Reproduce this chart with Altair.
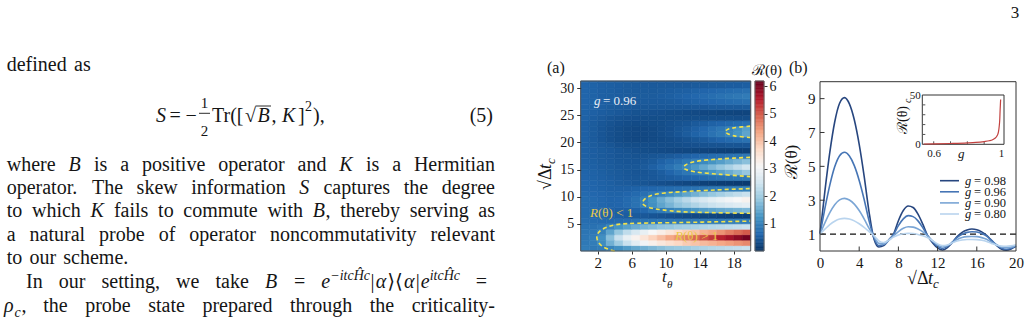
import re
import altair as alt
import pandas as pd

W, H = 1028, 317
SERIF = "Liberation Serif, DejaVu Serif, serif"
INK = "#151515"

# ---------------- values ----------------
# panel (a): heat map  R(theta) over (t_theta, sqrt(Delta) t_c)
t_theta = [0.5, 1.5, 2.5, 3.5, 4.5, 5.5, 6.5, 7.5, 8.5, 9.5,
           10.5, 11.5, 12.5, 13.5, 14.5, 15.5, 16.5, 17.5, 18.5, 19.5]
sqrt_tc = [0.5, 1.5, 2.5, 3.5, 4.5, 5.5, 6.5, 7.5, 8.5, 9.5, 10.5, 11.5, 12.5, 13.5, 14.5, 15.5,
           16.5, 17.5, 18.5, 19.5, 20.5, 21.5, 22.5, 23.5, 24.5, 25.5, 26.5, 27.5, 28.5, 29.5, 30.5, 31.5]
R_map = [
    [0.93, 0.9, 0.93, 1.05, 1.2, 1.35, 1.5, 1.6, 1.7, 1.8, 1.9, 1.95, 2.0, 2.1, 2.15, 2.2, 2.25, 2.3, 2.35, 2.4],
    [0.88, 0.93, 1.15, 1.6, 2.0, 2.4, 2.75, 3.0, 3.25, 3.45, 3.6, 3.75, 3.9, 4.0, 4.1, 4.2, 4.3, 4.4, 4.5, 4.6],
    [0.85, 0.93, 1.2, 1.8, 2.4, 2.85, 3.2, 3.5, 3.8, 4.05, 4.3, 4.5, 4.7, 4.9, 5.1, 5.3, 5.5, 5.7, 5.9, 6.1],
    [0.82, 0.85, 1.0, 1.45, 1.9, 2.3, 2.6, 2.85, 3.1, 3.3, 3.5, 3.7, 3.85, 4.0, 4.2, 4.35, 4.5, 4.7, 4.85, 5.0],
    [0.78, 0.78, 0.85, 1.05, 1.25, 1.4, 1.55, 1.65, 1.75, 1.85, 1.9, 2.0, 2.05, 2.1, 2.15, 2.2, 2.25, 2.3, 2.35, 2.4],
    [0.73, 0.7, 0.67, 0.67, 0.7, 0.73, 0.78, 0.8, 0.82, 0.85, 0.85, 0.85, 0.88, 0.88, 0.9, 0.9, 0.91, 0.91, 0.93, 0.93],
    [0.7, 0.67, 0.63, 0.58, 0.55, 0.52, 0.49, 0.46, 0.43, 0.4, 0.37, 0.34, 0.31, 0.28, 0.25, 0.25, 0.22, 0.2, 0.19, 0.18],
    [0.7, 0.67, 0.63, 0.58, 0.55, 0.55, 0.58, 0.64, 0.78, 0.9, 1.0, 1.1, 1.2, 1.3, 1.38, 1.45, 1.52, 1.58, 1.64, 1.7],
    [0.7, 0.67, 0.63, 0.6, 0.61, 0.67, 0.79, 0.97, 1.2, 1.45, 1.65, 1.85, 2.0, 2.15, 2.3, 2.42, 2.52, 2.62, 2.72, 2.8],
    [0.7, 0.67, 0.63, 0.6, 0.61, 0.67, 0.79, 0.97, 1.25, 1.55, 1.8, 2.05, 2.25, 2.45, 2.6, 2.75, 2.88, 3.0, 3.1, 3.2],
    [0.67, 0.64, 0.61, 0.58, 0.58, 0.61, 0.67, 0.76, 0.88, 1.0, 1.15, 1.3, 1.45, 1.6, 1.75, 1.9, 2.05, 2.18, 2.3, 2.4],
    [0.64, 0.61, 0.58, 0.55, 0.55, 0.55, 0.58, 0.61, 0.64, 0.67, 0.7, 0.73, 0.78, 0.8, 0.85, 0.88, 0.91, 0.94, 0.97, 1.0],
    [0.63, 0.6, 0.57, 0.54, 0.5, 0.48, 0.45, 0.42, 0.39, 0.36, 0.33, 0.3, 0.27, 0.24, 0.21, 0.18, 0.16, 0.15, 0.13, 0.12],
    [0.61, 0.58, 0.55, 0.52, 0.49, 0.46, 0.45, 0.45, 0.46, 0.49, 0.52, 0.55, 0.6, 0.64, 0.69, 0.73, 0.78, 0.82, 0.85, 0.88],
    [0.6, 0.57, 0.54, 0.5, 0.48, 0.45, 0.43, 0.43, 0.46, 0.52, 0.61, 0.73, 0.85, 0.97, 1.1, 1.25, 1.4, 1.55, 1.72, 1.9],
    [0.58, 0.55, 0.52, 0.49, 0.46, 0.45, 0.45, 0.48, 0.55, 0.66, 0.78, 0.93, 1.1, 1.3, 1.5, 1.7, 1.9, 2.1, 2.3, 2.5],
    [0.57, 0.54, 0.5, 0.48, 0.45, 0.43, 0.43, 0.45, 0.49, 0.57, 0.66, 0.76, 0.88, 1.0, 1.12, 1.25, 1.38, 1.52, 1.66, 1.8],
    [0.55, 0.52, 0.49, 0.46, 0.43, 0.42, 0.4, 0.4, 0.42, 0.45, 0.48, 0.52, 0.57, 0.61, 0.66, 0.7, 0.75, 0.79, 0.82, 0.85],
    [0.55, 0.52, 0.49, 0.46, 0.43, 0.4, 0.37, 0.34, 0.33, 0.31, 0.3, 0.28, 0.27, 0.25, 0.24, 0.22, 0.21, 0.19, 0.18, 0.18],
    [0.55, 0.5, 0.46, 0.42, 0.37, 0.34, 0.33, 0.33, 0.33, 0.33, 0.33, 0.34, 0.36, 0.37, 0.39, 0.4, 0.4, 0.42, 0.42, 0.43],
    [0.55, 0.49, 0.43, 0.37, 0.33, 0.3, 0.28, 0.28, 0.3, 0.31, 0.33, 0.36, 0.4, 0.45, 0.49, 0.55, 0.61, 0.67, 0.73, 0.79],
    [0.55, 0.49, 0.43, 0.37, 0.33, 0.3, 0.28, 0.28, 0.3, 0.33, 0.37, 0.43, 0.5, 0.58, 0.67, 0.78, 0.9, 1.05, 1.25, 1.45],
    [0.55, 0.49, 0.43, 0.37, 0.33, 0.3, 0.28, 0.28, 0.3, 0.33, 0.36, 0.42, 0.48, 0.55, 0.64, 0.75, 0.85, 1.0, 1.2, 1.4],
    [0.55, 0.5, 0.45, 0.4, 0.36, 0.33, 0.31, 0.31, 0.33, 0.34, 0.37, 0.4, 0.43, 0.48, 0.52, 0.57, 0.61, 0.66, 0.7, 0.75],
    [0.57, 0.52, 0.48, 0.43, 0.4, 0.37, 0.36, 0.34, 0.34, 0.34, 0.34, 0.34, 0.34, 0.34, 0.34, 0.34, 0.34, 0.34, 0.33, 0.33],
    [0.58, 0.55, 0.52, 0.49, 0.46, 0.43, 0.4, 0.39, 0.37, 0.36, 0.34, 0.33, 0.31, 0.3, 0.28, 0.27, 0.25, 0.25, 0.24, 0.24],
    [0.6, 0.57, 0.54, 0.5, 0.49, 0.48, 0.46, 0.45, 0.45, 0.45, 0.45, 0.45, 0.45, 0.46, 0.46, 0.48, 0.48, 0.49, 0.49, 0.5],
    [0.61, 0.58, 0.55, 0.54, 0.52, 0.5, 0.49, 0.49, 0.49, 0.49, 0.5, 0.52, 0.55, 0.58, 0.61, 0.64, 0.67, 0.7, 0.73, 0.76],
    [0.61, 0.58, 0.55, 0.54, 0.52, 0.5, 0.5, 0.5, 0.5, 0.52, 0.54, 0.57, 0.6, 0.64, 0.69, 0.73, 0.78, 0.82, 0.87, 0.91],
    [0.61, 0.58, 0.55, 0.54, 0.52, 0.5, 0.49, 0.49, 0.49, 0.5, 0.52, 0.54, 0.55, 0.58, 0.61, 0.64, 0.67, 0.7, 0.73, 0.76],
    [0.61, 0.58, 0.55, 0.54, 0.52, 0.5, 0.49, 0.48, 0.48, 0.48, 0.48, 0.48, 0.48, 0.49, 0.49, 0.5, 0.5, 0.52, 0.52, 0.54],
    [0.6, 0.57, 0.54, 0.52, 0.5, 0.49, 0.48, 0.46, 0.46, 0.46, 0.46, 0.46, 0.46, 0.46, 0.46, 0.48, 0.48, 0.48, 0.49, 0.49],
]
# R(theta) = 1 contours (dashed yellow)
c1_t = [4.0, 3.3, 2.6, 2.1, 1.9, 2.05, 2.5, 3.2, 4.2, 5.5, 8.0, 12.0, 16.0, 20.0]
c1_s = [0.0, 0.3, 0.8, 1.6, 2.5, 3.3, 3.95, 4.45, 4.85, 5.05, 5.15, 5.25, 5.38, 5.5]
c2_t = [20.0, 16.0, 11.8, 9.5, 8.45, 7.6, 7.27, 7.5, 8.45, 10.0, 11.8, 16.0, 20.0]
c2_s = [6.94, 7.05, 7.24, 7.6, 7.86, 8.3, 8.8, 9.5, 10.3, 10.7, 10.9, 11.25, 11.5]
c3_t = [20.0, 16.5, 13.4, 12.4, 12.1, 12.4, 13.4, 16.5, 20.0]
c3_s = [13.7, 14.1, 14.6, 15.0, 15.4, 15.9, 16.45, 16.95, 17.25]
c4_t = [20.0, 18.1, 17.3, 17.0, 17.3, 18.1, 20.0]
c4_s = [20.9, 21.2, 21.6, 21.97, 22.4, 22.7, 23.0]

# panel (b): R(theta) vs sqrt(Delta) t_c for several g
tc_b = [0, 0.5, 1, 1.5, 2, 2.5, 3, 3.5, 4, 4.5, 5, 5.5, 6, 6.5, 7, 7.5, 8, 8.5, 9, 9.5, 10,
        10.5, 11, 11.5, 12, 12.5, 13, 13.5, 14, 14.5, 15, 15.5, 16, 16.5, 17, 17.5, 18, 18.5, 19, 19.5, 20]
R_g098 = [1.0, 3.54, 5.82, 7.62, 8.73, 9.06, 8.69, 7.75, 6.30, 4.44, 2.33, 0.72, 0.24, 0.32, 0.64, 1.0,
          1.79, 2.39, 2.66, 2.57, 2.18, 1.57, 0.88, 0.48, 0.18, 0.06, 0.2, 0.5, 0.86, 1.1, 1.24, 1.3,
          1.26, 1.13, 0.93, 0.63, 0.34, 0.12, 0.05, 0.12, 0.27]
R_g096 = [1.0, 2.52, 3.89, 4.97, 5.63, 5.83, 5.61, 5.04, 4.17, 3.06, 1.80, 0.8, 0.32, 0.38, 0.65, 0.97,
          1.5, 1.9, 2.09, 2.03, 1.78, 1.37, 0.9, 0.55, 0.28, 0.15, 0.27, 0.52, 0.8, 0.98, 1.1, 1.14,
          1.12, 1.03, 0.88, 0.63, 0.38, 0.18, 0.1, 0.16, 0.3]
R_g090 = [1.0, 1.66, 2.26, 2.73, 3.02, 3.11, 3.01, 2.77, 2.39, 1.9, 1.35, 0.88, 0.45, 0.42, 0.62, 0.9,
          1.15, 1.34, 1.43, 1.41, 1.3, 1.13, 0.88, 0.6, 0.35, 0.24, 0.32, 0.5, 0.68, 0.8, 0.85, 0.86,
          0.85, 0.79, 0.69, 0.52, 0.36, 0.24, 0.2, 0.23, 0.33]
R_g080 = [1.0, 1.29, 1.56, 1.76, 1.89, 1.93, 1.89, 1.78, 1.61, 1.4, 1.15, 0.9, 0.6, 0.5, 0.63, 0.82,
          0.95, 1.02, 1.04, 1.03, 0.98, 0.9, 0.78, 0.6, 0.42, 0.32, 0.36, 0.48, 0.59, 0.65, 0.68, 0.68,
          0.67, 0.63, 0.56, 0.45, 0.35, 0.29, 0.28, 0.31, 0.37]
g_labels = ["0.98", "0.96", "0.90", "0.80"]
g_colors = ["#27467f", "#4675b5", "#7aa5d5", "#b9d4ee"]

# inset: R(theta)_c vs g
g_inset = [0.54, 0.6, 0.7, 0.8, 0.85, 0.9, 0.93, 0.95, 0.96, 0.97, 0.975, 0.98, 0.985, 0.99, 0.993, 0.995, 0.997, 0.998]
Rc_inset = [0.3, 0.4, 0.8, 1.4, 1.9, 2.8, 3.6, 4.6, 5.6, 7.0, 8.2, 9.6, 12.5, 19.0, 26.0, 35.0, 42.0, 45.5]

# colour map of the heat map (RdBu reversed, 11 stops over the colour-bar range 0 .. 6.2)
cmap_stops = [0.0, 0.62, 1.24, 1.86, 2.48, 3.1, 3.72, 4.34, 4.96, 5.58, 6.2]
cmap_colors = ["#053061", "#2166ac", "#4393c3", "#92c5de", "#d1e5f0", "#f7f7f7",
               "#fddbc7", "#f4a582", "#d6604d", "#b2182b", "#67001f"]

# ---------------- tables for the library ----------------
heat_df = pd.DataFrame([
    dict(x0=t - 0.5, x1=t + 0.5, y0=s - 0.5, y1=s + 0.5, R=R_map[i][j])
    for i, s in enumerate(sqrt_tc) for j, t in enumerate(t_theta)
])
cont_rows = []
for cid, (ts, ss) in enumerate([(c1_t, c1_s), (c2_t, c2_s), (c3_t, c3_s), (c4_t, c4_s)]):
    for k, (t, s) in enumerate(zip(ts, ss)):
        cont_rows.append(dict(cid=cid, k=k, t=t, s=s))
cont_df = pd.DataFrame(cont_rows)

cb_lv = [round(0.05 * k, 2) for k in range(124)]
cb_df = pd.DataFrame({"v0": cb_lv, "v1": [round(v + 0.05, 2) for v in cb_lv], "v": [v + 0.025 for v in cb_lv]})

b_rows = []
for lab, ys in zip(g_labels, [R_g098, R_g096, R_g090, R_g080]):
    for x, y in zip(tc_b, ys):
        b_rows.append(dict(g=lab, x=x, R=y))
b_df = pd.DataFrame(b_rows)
leg_df = pd.DataFrame({"k": [0, 1, 2, 3], "g": g_labels, "eq": ["= " + s for s in g_labels]})
ins_df = pd.DataFrame({"g": g_inset, "R": Rc_inset})

# ---------------- scales (pixel ranges on one canvas) ----------------
def S(domain, rng, **kw):
    return alt.Scale(domain=domain, range=rng, nice=False, zero=False, **kw)

hx = S([0, 20], [580.7, 750.7])
hy = S([0, 31.3], [251, 81], clamp=True)
cy = S([0, 6.2], [251, 81])
bx = S([0, 20], [820, 1016])
by = S([0, 10], [251, 81.7])
ix = S([0.532, 1.018], [922.3, 1004])
iy = S([0, 50], [144.3, 95])
ly = S([0, 3], [180.7, 214])
cscale = alt.Scale(domain=cmap_stops, range=cmap_colors, interpolate="rgb", clamp=True)
gscale = alt.Scale(domain=g_labels, range=g_colors)


def AX(orient, offset, values, fs=15, ticks=True, tsize=4, pad=3, fmt=None):
    kw = dict(orient=orient, offset=offset, values=values, title=None, grid=False, domain=False,
              ticks=ticks, labelFont=SERIF, labelFontSize=fs, labelColor=INK, labelPadding=pad,
              labelFlush=False, labelOverlap=False, zindex=1)
    if ticks:
        kw.update(tickSize=tsize, tickColor="#333", tickWidth=1)
    if fmt:
        kw["format"] = fmt
    return alt.Axis(**kw)


one = pd.DataFrame({"a": [0]})
layers = []

# ---------------- panel (a) ----------------
layers.append(alt.Chart(heat_df).mark_rect(strokeWidth=0.6).encode(
    x=alt.X("x0:Q", scale=hx, axis=AX("bottom", -66, [2, 6, 10, 14, 18], fs=15, tsize=3, pad=1)),
    x2="x1:Q",
    y=alt.Y("y0:Q", scale=hy, axis=AX("left", -580.7, [5, 10, 15, 20, 25, 30], fs=14, tsize=4, pad=3)),
    y2="y1:Q",
    color=alt.Color("R:Q", scale=cscale, legend=None),
    stroke=alt.Stroke("R:Q", scale=cscale, legend=None),
))
layers.append(alt.Chart(cont_df).mark_line(interpolate="catmull-rom", strokeDash=[4, 3], strokeWidth=1.6,
                                           color="#f3e24a").encode(
    x=alt.X("t:Q", scale=hx, axis=None), y=alt.Y("s:Q", scale=hy, axis=None),
    detail="cid:N", order="k:Q"))
frame_a = pd.DataFrame({"x0": [0], "x1": [20], "y0": [0], "y1": [31.3]})
layers.append(alt.Chart(frame_a).mark_rect(fillOpacity=0, stroke="#555", strokeWidth=1).encode(
    x=alt.X("x0:Q", scale=hx, axis=None), x2="x1:Q", y=alt.Y("y0:Q", scale=hy, axis=None), y2="y1:Q"))

# colour bar
layers.append(alt.Chart(cb_df).mark_rect(strokeWidth=0.6).encode(
    x=alt.value(755), x2=alt.value(764),
    y=alt.Y("v0:Q", scale=cy, axis=AX("right", -264, [1, 2, 3, 4, 5, 6], fs=14, tsize=3, pad=2)),
    y2="v1:Q",
    color=alt.Color("v:Q", scale=cscale, legend=None),
    stroke=alt.Stroke("v:Q", scale=cscale, legend=None),
))
layers.append(alt.Chart(one).mark_rect(fillOpacity=0, stroke="#666", strokeWidth=1).encode(
    x=alt.value(755), x2=alt.value(764), y=alt.value(81), y2=alt.value(251)))

# ---------------- panel (b) ----------------
layers.append(alt.Chart(pd.DataFrame({"y": [1.0], "x0": [0], "x1": [20]})).mark_rule(
    strokeDash=[6, 4], color="#111", strokeWidth=1.2).encode(
    x=alt.X("x0:Q", scale=bx, axis=None), x2="x1:Q", y=alt.Y("y:Q", scale=by, axis=None)))
layers.append(alt.Chart(b_df).mark_line(interpolate="monotone", strokeWidth=1.6).encode(
    x=alt.X("x:Q", scale=bx, axis=AX("bottom", -66, [0, 4, 8, 12, 16, 20], fs=15, ticks=False, pad=4)),
    y=alt.Y("R:Q", scale=by, axis=AX("left", -820, [1, 3, 5, 7, 9], fs=15, ticks=False, pad=5)),
    color=alt.Color("g:N", scale=gscale, legend=None),
    order=alt.Order("x:Q"),
))
frame_b = pd.DataFrame({"x0": [0], "x1": [20], "y0": [0], "y1": [10]})
layers.append(alt.Chart(frame_b).mark_rect(fillOpacity=0, stroke="#333", strokeWidth=1).encode(
    x=alt.X("x0:Q", scale=bx, axis=None), x2="x1:Q", y=alt.Y("y0:Q", scale=by, axis=None), y2="y1:Q"))
layers.append(alt.Chart(pd.DataFrame({"v": [4, 8, 12, 16]})).mark_rule(color="#333").encode(
    x=alt.X("v:Q", scale=bx, axis=None), y=alt.value(251), y2=alt.value(246.5)))
layers.append(alt.Chart(pd.DataFrame({"v": [1, 3, 5, 7, 9]})).mark_rule(color="#333").encode(
    y=alt.Y("v:Q", scale=by, axis=None), x=alt.value(820), x2=alt.value(824.5)))

# legend of panel (b)
layers.append(alt.Chart(leg_df).mark_rule(strokeWidth=1.6).encode(
    x=alt.value(940), x2=alt.value(959), y=alt.Y("k:Q", scale=ly, axis=None),
    color=alt.Color("g:N", scale=gscale, legend=None)))
layers.append(alt.Chart(leg_df).mark_text(align="left", baseline="middle", font=SERIF, fontSize=12.5,
                                          fontStyle="italic", color=INK).encode(
    x=alt.value(965), y=alt.Y("k:Q", scale=ly, axis=None), text=alt.value("g")))
layers.append(alt.Chart(leg_df).mark_text(align="left", baseline="middle", font=SERIF, fontSize=12.5,
                                          color=INK).encode(
    x=alt.value(974), y=alt.Y("k:Q", scale=ly, axis=None), text="eq:N"))

# inset
frame_i = pd.DataFrame({"x0": [0.532], "x1": [1.018], "y0": [0], "y1": [50]})
layers.append(alt.Chart(frame_i).mark_rect(fill="white", stroke="#333", strokeWidth=1).encode(
    x=alt.X("x0:Q", scale=ix, axis=AX("bottom", -172.7, [0.6, 1], fs=11, ticks=False, pad=3, fmt="~g")),
    x2="x1:Q",
    y=alt.Y("y0:Q", scale=iy, axis=AX("left", -922.3, [0, 50], fs=11, ticks=False, pad=2)),
    y2="y1:Q"))
layers.append(alt.Chart(pd.DataFrame({"v": [10, 20, 30, 40]})).mark_rule(color="#555").encode(
    y=alt.Y("v:Q", scale=iy, axis=None), x=alt.value(922.3), x2=alt.value(925.3)))
layers.append(alt.Chart(pd.DataFrame({"v": [0.6, 0.7, 0.8, 0.9]})).mark_rule(color="#555").encode(
    x=alt.X("v:Q", scale=ix, axis=None), y=alt.value(144.3), y2=alt.value(141.3)))
layers.append(alt.Chart(ins_df).mark_line(interpolate="monotone", color="#c2413f", strokeWidth=1.2).encode(
    x=alt.X("g:Q", scale=ix, axis=None), y=alt.Y("R:Q", scale=iy, axis=None)))

# ---------------- text of the page ----------------
TW = {" ": 250, "(": 333, ")": 333, ",": 250, "-": 333, ".": 250, "=": 564, "[": 333, "]": 333, "|": 260,
      "0": 500, "1": 500, "2": 500, "3": 500, "4": 500, "5": 500, "6": 500, "7": 500, "8": 500, "9": 500,
      "A": 722, "B": 640, "C": 667, "D": 722, "E": 611, "F": 556, "G": 722, "H": 722, "I": 333, "J": 389,
      "K": 690, "L": 611, "M": 889, "N": 722, "O": 722, "P": 556, "Q": 722, "R": 667, "S": 530, "T": 611,
      "U": 722, "V": 722, "W": 944, "X": 722, "Y": 722, "Z": 611,
      "a": 444, "b": 500, "c": 444, "d": 500, "e": 444, "f": 333, "g": 500, "h": 500, "i": 278, "j": 278,
      "k": 500, "l": 278, "m": 778, "n": 500, "o": 500, "p": 500, "q": 500, "r": 333, "s": 389, "t": 278,
      "u": 500, "v": 500, "w": 722, "x": 500, "y": 500, "z": 444,
      "α": 580, "ρ": 520, "⟩": 420, "⟨": 420, "Ĥ": 760, "−": 600, "√": 549, "Δ": 612, "θ": 500}


def seg_w(s, fs):
    return sum(TW.get(ch, 500) for ch in s) / 1000.0 * fs


MARK = re.compile(r"(\*[^*]+\*|~[^~]+~|\^[^^]+\^)")


def parse(tok):
    out = []
    for part in MARK.split(tok):
        if not part:
            continue
        if part[0] == "*":
            out.append((part[1:-1], "italic", 1.0, 0))
        elif part[0] == "~":
            out.append((part[1:-1], "italic", 0.7, 5))
        elif part[0] == "^":
            out.append((part[1:-1], "italic", 0.7, -8))
        else:
            out.append((part, "normal", 1.0, 0))
    return out


FS = 20
text_rows = []


def justify(line, x0, x1, y, fs=FS):
    toks = [parse(t) for t in line.split(" ")]
    widths = [sum(seg_w(s, fs * k) for s, _, k, _ in tk) for tk in toks]
    gap = (x1 - x0 - sum(widths)) / max(len(toks) - 1, 1)
    x = x0
    for tk, w in zip(toks, widths):
        cx = x
        for s, st, k, dy in tk:
            text_rows.append(dict(txt=s, px=cx, py=y + dy, fs=fs * k, style=st, al="left", col=INK, ang=0))
            cx += seg_w(s, fs * k) + (1.0 if k < 1 else 0.0)
        x += w + gap


body = [
    ("defined as", 6.7, 90.7, 70.7),
    ("where *B* is a positive operator and *K* is a Hermitian", 6.7, 495, 170.7),
    ("operator. The skew information *S* captures the degree", 6.7, 495, 194.0),
    ("to which *K* fails to commute with *B*, thereby serving as", 6.7, 495, 217.3),
    ("a natural probe of operator noncommutativity relevant", 6.7, 495, 240.7),
    ("to our scheme.", 6.7, 128.3, 264.3),
    ("In our setting, we take *B* = *e*^−itcĤc^|*α*⟩⟨*α*|*e*^itcĤc^ =", 26, 487, 288.3),
    ("*ρ*~c~, the probe state prepared through the criticality-", 4, 495, 311.7),
]
for line, x0, x1, y in body:
    justify(line, x0, x1, y)


def T(txt, x, y, fs, style="normal", col=INK, ang=0, al="left"):
    text_rows.append(dict(txt=txt, px=x, py=y, fs=fs, style=style, al=al, col=col, ang=ang))


# equation (5)
T("S", 156, 121.7, 20, "italic")
T("=", 169.5, 121.7, 20)
T("−", 185.5, 121.7, 20)
T("1", 204.5, 108, 15, al="center")
T("2", 204.5, 135.5, 15, al="center")
T("Tr([", 212, 121.7, 20)
T("√", 245, 121.7, 20)
T("B", 257.5, 121.7, 20, "italic")
T(",", 271.5, 121.7, 20)
T("K", 282, 121.7, 20, "italic")
T("]", 298, 121.7, 20)
T("2", 305, 111, 14)
T("),", 313, 121.7, 20)
T("(5)", 493, 121.7, 20, al="right")

# figure labels
WHITE, YEL = "#e9eef6", "#e9c94a"
T("3", 1015, 18, 17, al="center")
T("(a)", 547, 73, 16)
T("(b)", 789, 73, 16)
T("ℛ(θ)", 767, 75, 15, al="center")
T("g", 594, 105, 13, "italic", WHITE)
T("= 0.96", 603, 105, 13, "normal", WHITE)
T("R", 590, 217, 13, "italic", YEL)
T("(θ) < 1", 598, 217, 13, "normal", YEL)
T("R", 675, 240, 13, "italic", YEL)
T("(θ) > 1", 683, 240, 13, "normal", YEL)
# axis titles, panel (a)
T("√Δ", 551, 190, 18, ang=270)
T("t", 551, 169, 18, "italic", ang=270)
T("c", 555, 164, 13, "italic", ang=270)
T("t", 662, 282, 17, "italic")
T("θ", 667, 288, 11, "italic")
# axis titles, panel (b)
T("ℛ(θ)", 797, 162, 17, ang=270, al="center")
T("√Δ", 907, 284, 18)
T("t", 928, 284, 18, "italic")
T("c", 933, 288, 13, "italic")
# inset titles
T("ℛ(θ)", 907, 120, 14, ang=270, al="center")
T("c", 910.5, 103, 10, "italic", ang=270)
T("g", 958, 158, 13, "italic")

text_df = pd.DataFrame(text_rows)
for (st, al), sub in text_df.groupby(["style", "al"]):
    layers.append(alt.Chart(sub).mark_text(align=al, baseline="alphabetic", font=SERIF, fontStyle=st).encode(
        x=alt.X("px:Q", scale=None, axis=None),
        y=alt.Y("py:Q", scale=None, axis=None),
        text="txt:N",
        size=alt.Size("fs:Q", scale=None),
        color=alt.Color("col:N", scale=None),
        angle=alt.Angle("ang:Q", scale=None),
    ))

# fraction bar and radical overline of equation (5)
layers.append(alt.Chart(one).mark_rule(color=INK, strokeWidth=0.9).encode(
    x=alt.value(199), x2=alt.value(210), y=alt.value(113.3)))
layers.append(alt.Chart(one).mark_rule(color=INK, strokeWidth=0.9).encode(
    x=alt.value(255.5), x2=alt.value(271), y=alt.value(106)))

chart = alt.layer(*layers).resolve_scale(
    x="independent", y="independent", color="independent", stroke="independent"
).properties(
    width=W, height=H, autosize=alt.AutoSizeParams(type="none"), padding=0, background="white"
).configure_view(stroke=None)

chart.save("out.html", embed_options={"renderer": "svg", "actions": False})
